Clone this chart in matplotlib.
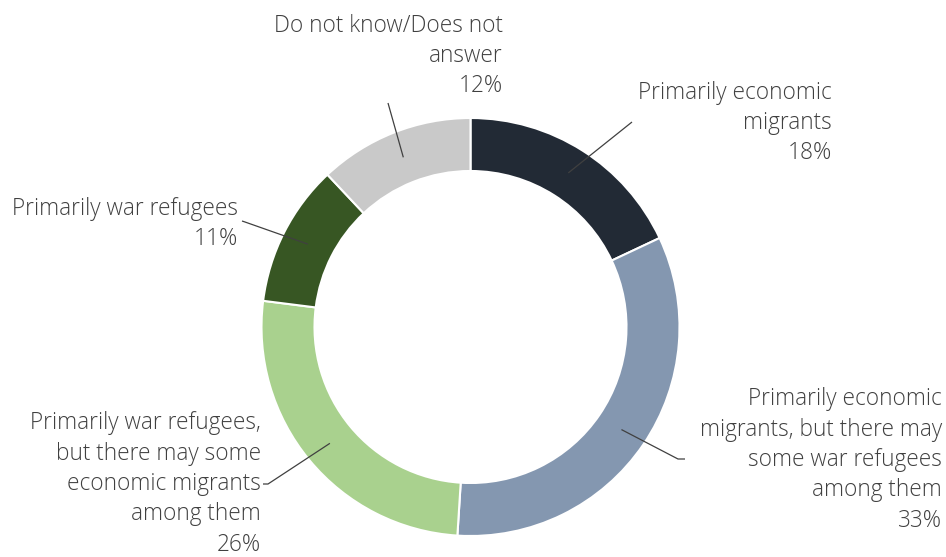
import numpy as np
import matplotlib
matplotlib.use("Agg")
import matplotlib.pyplot as plt

categories = [
    "Primarily economic\nmigrants",
    "Primarily economic\nmigrants, but there may\nsome war refugees\namong them",
    "Primarily war refugees,\nbut there may some\neconomic migrants\namong them",
    "Primarily war refugees",
    "Do not know/Does not\nanswer",
]
values = [18, 33, 26, 11, 12]
colors = ["#222a35", "#8497b0", "#a9d18e", "#375623", "#c9c9c9"]

W, H = 946, 557
fig = plt.figure(figsize=(W / 100, H / 100), dpi=100)
ax = fig.add_axes([0, 0, 1, 1])

cx, cy = 470.5, H - 327
R_out, ring = 209, 53
wedges, _ = ax.pie(values, colors=colors, startangle=90, counterclock=False,
                   radius=R_out, center=(cx, cy),
                   wedgeprops=dict(width=ring, edgecolor="white", linewidth=1.5))
ax.set_xlim(0, W)
ax.set_ylim(0, H)
ax.set_aspect("equal")
ax.axis("off")

# label layout: (right x, center y in px from top, leader end points in px)
label_pos = [
    (832, 123, [(632, 122)]),
    (942, 460, [(678, 459), (685, 459)]),
    (261, 484, [(268, 484), (263, 484)]),
    (238, 224, [(245, 222), (242, 221)]),
    (503, 56, [(388, 103)]),
]
txtcolor = "#404040"
fam = ["Open Sans", "DejaVu Sans"]
for w, cat, v, (rx, ry, pts) in zip(wedges, categories, values, label_pos):
    ang = np.deg2rad((w.theta1 + w.theta2) / 2)
    rm = R_out - ring / 2
    x0 = cx + rm * np.cos(ang)
    y0 = cy + rm * np.sin(ang)
    xs = [x0] + [p[0] for p in pts]
    ys = [y0] + [H - p[1] for p in pts]
    ax.plot(xs, ys, color=txtcolor, lw=0.9, solid_capstyle="butt")
    ax.text(rx, H - ry, f"{cat}\n{v}%", ha="right", va="center", multialignment="right",
            fontsize=16.3, family=fam, fontweight="light", color=txtcolor, linespacing=1.36)

fig.savefig("out.png", dpi=100)
